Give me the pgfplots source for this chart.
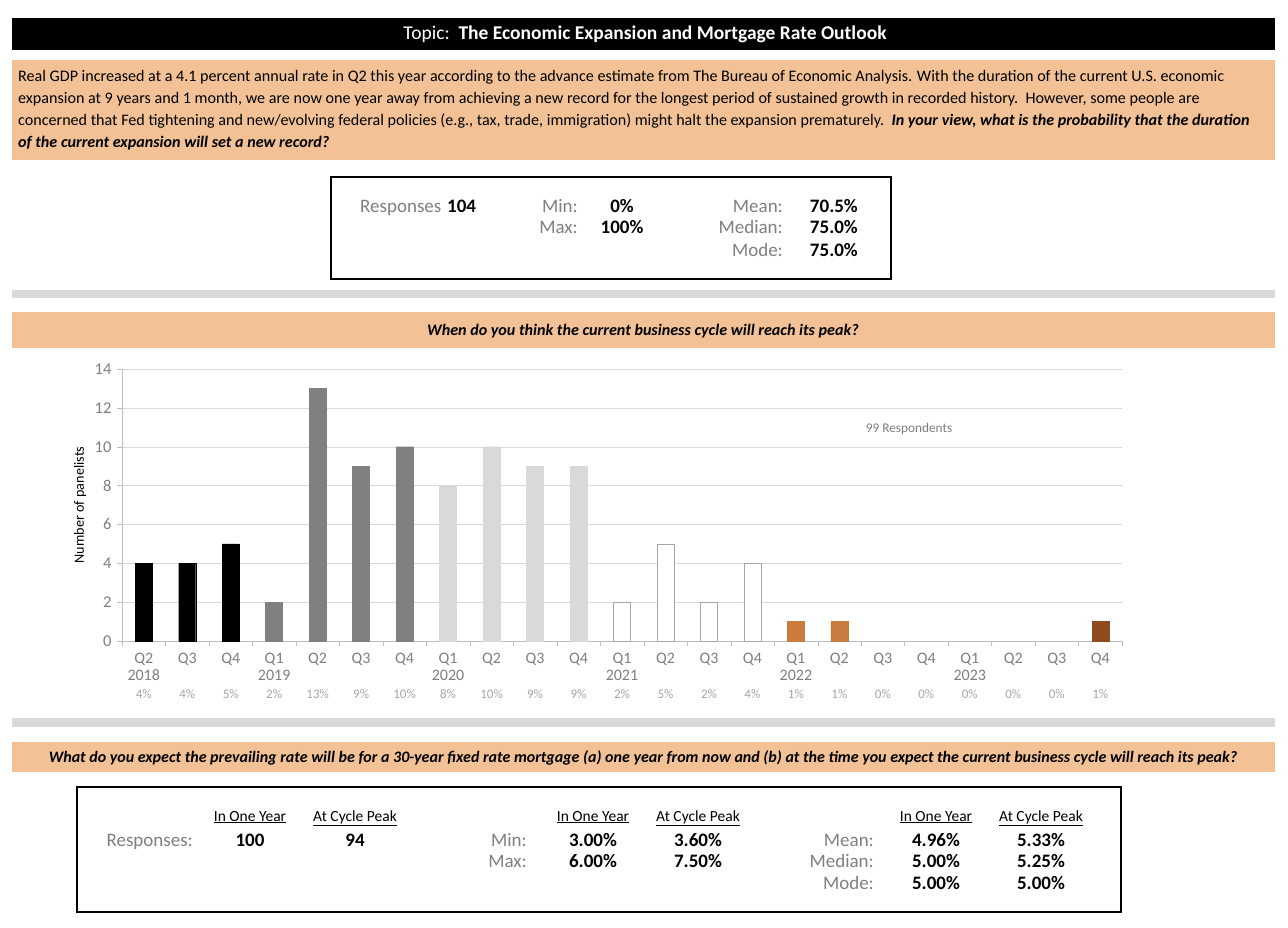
\documentclass[border=0pt]{standalone}
\usepackage{pgfplots}
\pgfplotsset{compat=1.18}
\usepackage{fontspec}
\setmainfont{Carlito}
\definecolor{peach}{HTML}{F2C296}
\definecolor{sepgray}{HTML}{D9D9D9}
\definecolor{labgray}{HTML}{7F7F7F}
\definecolor{pctgray}{HTML}{A6A6A6}
\definecolor{gridgray}{HTML}{D9D9D9}
\definecolor{axisgray}{HTML}{BFBFBF}
\definecolor{cB}{HTML}{808080}
\definecolor{cC}{HTML}{D9D9D9}
\definecolor{cE}{HTML}{C97A3D}
\definecolor{cF}{HTML}{914B21}
\newcommand{\fs}[2]{\fontsize{#1}{#2}\selectfont}
\newcommand{\tl}[3]{#1\\\strut #2\\[1pt]{\color{pctgray}\fs{13}{15}#3\%}}
\begin{document}
\begin{tikzpicture}[x=1pt,y=-1pt]
\useasboundingbox (0,0) rectangle (1288,928);
\fill[white] (0,0) rectangle (1288,928);
% title bar
\fill[black] (12,18) rectangle (1275,50);
\node[anchor=base, text=white, font=\fs{19.5}{23}, inner sep=0pt] at (645,40) {Topic:\ \ \textbf{The Economic Expansion and Mortgage Rate Outlook}};
% paragraph
\fill[peach] (12,60) rectangle (1275,160);
\begin{scope}[every node/.style={anchor=base west, inner sep=0pt, font=\fs{16.1}{19}}]
\node at (18,82) {Real GDP increased at a 4.1 percent annual rate in Q2 this year according to the advance estimate from The Bureau of Economic Analysis. With the duration of the current U.S. economic};
\node at (18,104) {expansion at 9 years and 1 month, we are now one year away from achieving a new record for the longest period of sustained growth in recorded history.\ \ However, some people are};
\node at (18,126) {concerned that Fed tightening and new/evolving federal policies (e.g., tax, trade, immigration) might halt the expansion prematurely.\ \ \textbf{\textit{In your view, what is the probability that the duration}}};
\node at (18,148) {\textbf{\textit{of the current expansion will set a new record?}}};
\end{scope}
% stats box 1
\draw[line width=1.5pt] (331,177) rectangle (891,279);
\begin{scope}[every node/.style={inner sep=0pt, font=\fs{19}{22}}]
\node[anchor=base west, text=labgray] at (360,213) {Responses};
\node[anchor=base west] at (447,213) {\textbf{104}};
\node[anchor=base east, text=labgray] at (578,213) {Min:};
\node[anchor=base] at (622,213) {\textbf{0\%}};
\node[anchor=base east, text=labgray] at (578,234) {Max:};
\node[anchor=base] at (622,234) {\textbf{100\%}};
\node[anchor=base east, text=labgray] at (783,213) {Mean:};
\node[anchor=base east, text=labgray] at (783,234) {Median:};
\node[anchor=base east, text=labgray] at (783,256) {Mode:};
\node[anchor=base east] at (858,213) {\textbf{70.5\%}};
\node[anchor=base east] at (858,234) {\textbf{75.0\%}};
\node[anchor=base east] at (858,256) {\textbf{75.0\%}};
\end{scope}
% separators
\fill[sepgray] (12,290) rectangle (1275,298);
\fill[sepgray] (12,718) rectangle (1275,727);
% peach bar 1
\fill[peach] (12,312) rectangle (1275,348);
\node[anchor=base, inner sep=0pt, font=\fs{16.1}{19}] at (643,335) {\textbf{\textit{When do you think the current business cycle will reach its peak?}}};
% chart
\begin{axis}[
  at={(122pt,-641pt)}, anchor=south west,
  width=1000pt, height=272pt, scale only axis,
  xmin=-0.5, xmax=22.5, ymin=0, ymax=14,
  ybar, bar width=17pt,
  every axis plot/.append style={bar shift=0pt},
  axis x line*=bottom, axis y line*=left,
  axis line style={draw=axisgray, -},
  ytick={0,2,...,14},
  ymajorgrids, grid style={draw=gridgray},
  xtick={0,...,22},
  xticklabels={{\tl{Q2}{2018}{4}},{\tl{Q3}{}{4}},{\tl{Q4}{}{5}},{\tl{Q1}{2019}{2}},{\tl{Q2}{}{13}},{\tl{Q3}{}{9}},{\tl{Q4}{}{10}},{\tl{Q1}{2020}{8}},{\tl{Q2}{}{10}},{\tl{Q3}{}{9}},{\tl{Q4}{}{9}},{\tl{Q1}{2021}{2}},{\tl{Q2}{}{5}},{\tl{Q3}{}{2}},{\tl{Q4}{}{4}},{\tl{Q1}{2022}{1}},{\tl{Q2}{}{1}},{\tl{Q3}{}{0}},{\tl{Q4}{}{0}},{\tl{Q1}{2023}{0}},{\tl{Q2}{}{0}},{\tl{Q3}{}{0}},{\tl{Q4}{}{1}}},
  minor xtick={-0.5,0.5,...,22.5},
  major x tick style={draw=none},
  minor x tick style={draw=axisgray},
  y tick style={draw=axisgray},
  tick align=outside,
  major tick length=5pt, minor tick length=5pt,
  yticklabel style={text=labgray, font=\fs{16.5}{18}, xshift=-2pt},
  xticklabel style={text=labgray, font=\fs{16}{17}, align=center, anchor=north, inner sep=0pt, yshift=-7pt},
  /pgf/number format/assume math mode=true,
  ylabel={Number of panelists},
  every axis y label/.style={at={(axis description cs:-0.042,0.5)}, rotate=90, anchor=center, font=\fs{14.2}{16}},
]
\addplot[fill=black, draw=black] coordinates {(0,4) (1,4) (2,5)};
\addplot[fill=cB, draw=cB] coordinates {(3,2) (4,13) (5,9) (6,10)};
\addplot[fill=cC, draw=cC] coordinates {(7,8) (8,10) (9,9) (10,9)};
\addplot[fill=white, draw=pctgray] coordinates {(11,2) (12,5) (13,2) (14,4)};
\addplot[fill=cE, draw=cE] coordinates {(15,1) (16,1)};
\addplot[draw=none, fill=none] coordinates {(17,0) (18,0) (19,0) (20,0) (21,0)};
\addplot[fill=cF, draw=cF] coordinates {(22,1)};
\end{axis}
\node[anchor=base, inner sep=0pt, text=labgray, font=\fs{13.3}{15}] at (909,432) {99 Respondents};
% peach bar 2
\fill[peach] (12,742) rectangle (1275,772);
\node[anchor=base, inner sep=0pt, font=\fs{16}{19}] at (643,762) {\textbf{\textit{What do you expect the prevailing rate will be for a 30-year fixed rate mortgage (a) one year from now and (b) at the time you expect the current business cycle will reach its peak?}}};
% box 2
\draw[line width=1.5pt] (77,787) rectangle (1121,912);
\begin{scope}[every node/.style={inner sep=0pt, anchor=base, font=\fs{15.5}{17}}]
\node at (250,821) {\underline{In One Year}};
\node at (355,821) {\underline{At Cycle Peak}};
\node at (593,821) {\underline{In One Year}};
\node at (698,821) {\underline{At Cycle Peak}};
\node at (936,821) {\underline{In One Year}};
\node at (1041,821) {\underline{At Cycle Peak}};
\end{scope}
\begin{scope}[every node/.style={inner sep=0pt, anchor=base, font=\fs{19}{22}}]
\node[anchor=base east, text=labgray] at (193,846) {Responses:};
\node at (250,846) {\textbf{100}};
\node at (355,846) {\textbf{94}};
\node[anchor=base east, text=labgray] at (527,846) {Min:};
\node at (593,846) {\textbf{3.00\%}};
\node at (698,846) {\textbf{3.60\%}};
\node[anchor=base east, text=labgray] at (527,867) {Max:};
\node at (593,867) {\textbf{6.00\%}};
\node at (698,867) {\textbf{7.50\%}};
\node[anchor=base east, text=labgray] at (874,846) {Mean:};
\node at (936,846) {\textbf{4.96\%}};
\node at (1041,846) {\textbf{5.33\%}};
\node[anchor=base east, text=labgray] at (874,867) {Median:};
\node at (936,867) {\textbf{5.00\%}};
\node at (1041,867) {\textbf{5.25\%}};
\node[anchor=base east, text=labgray] at (874,889) {Mode:};
\node at (936,889) {\textbf{5.00\%}};
\node at (1041,889) {\textbf{5.00\%}};
\end{scope}
\end{tikzpicture}
\end{document}
